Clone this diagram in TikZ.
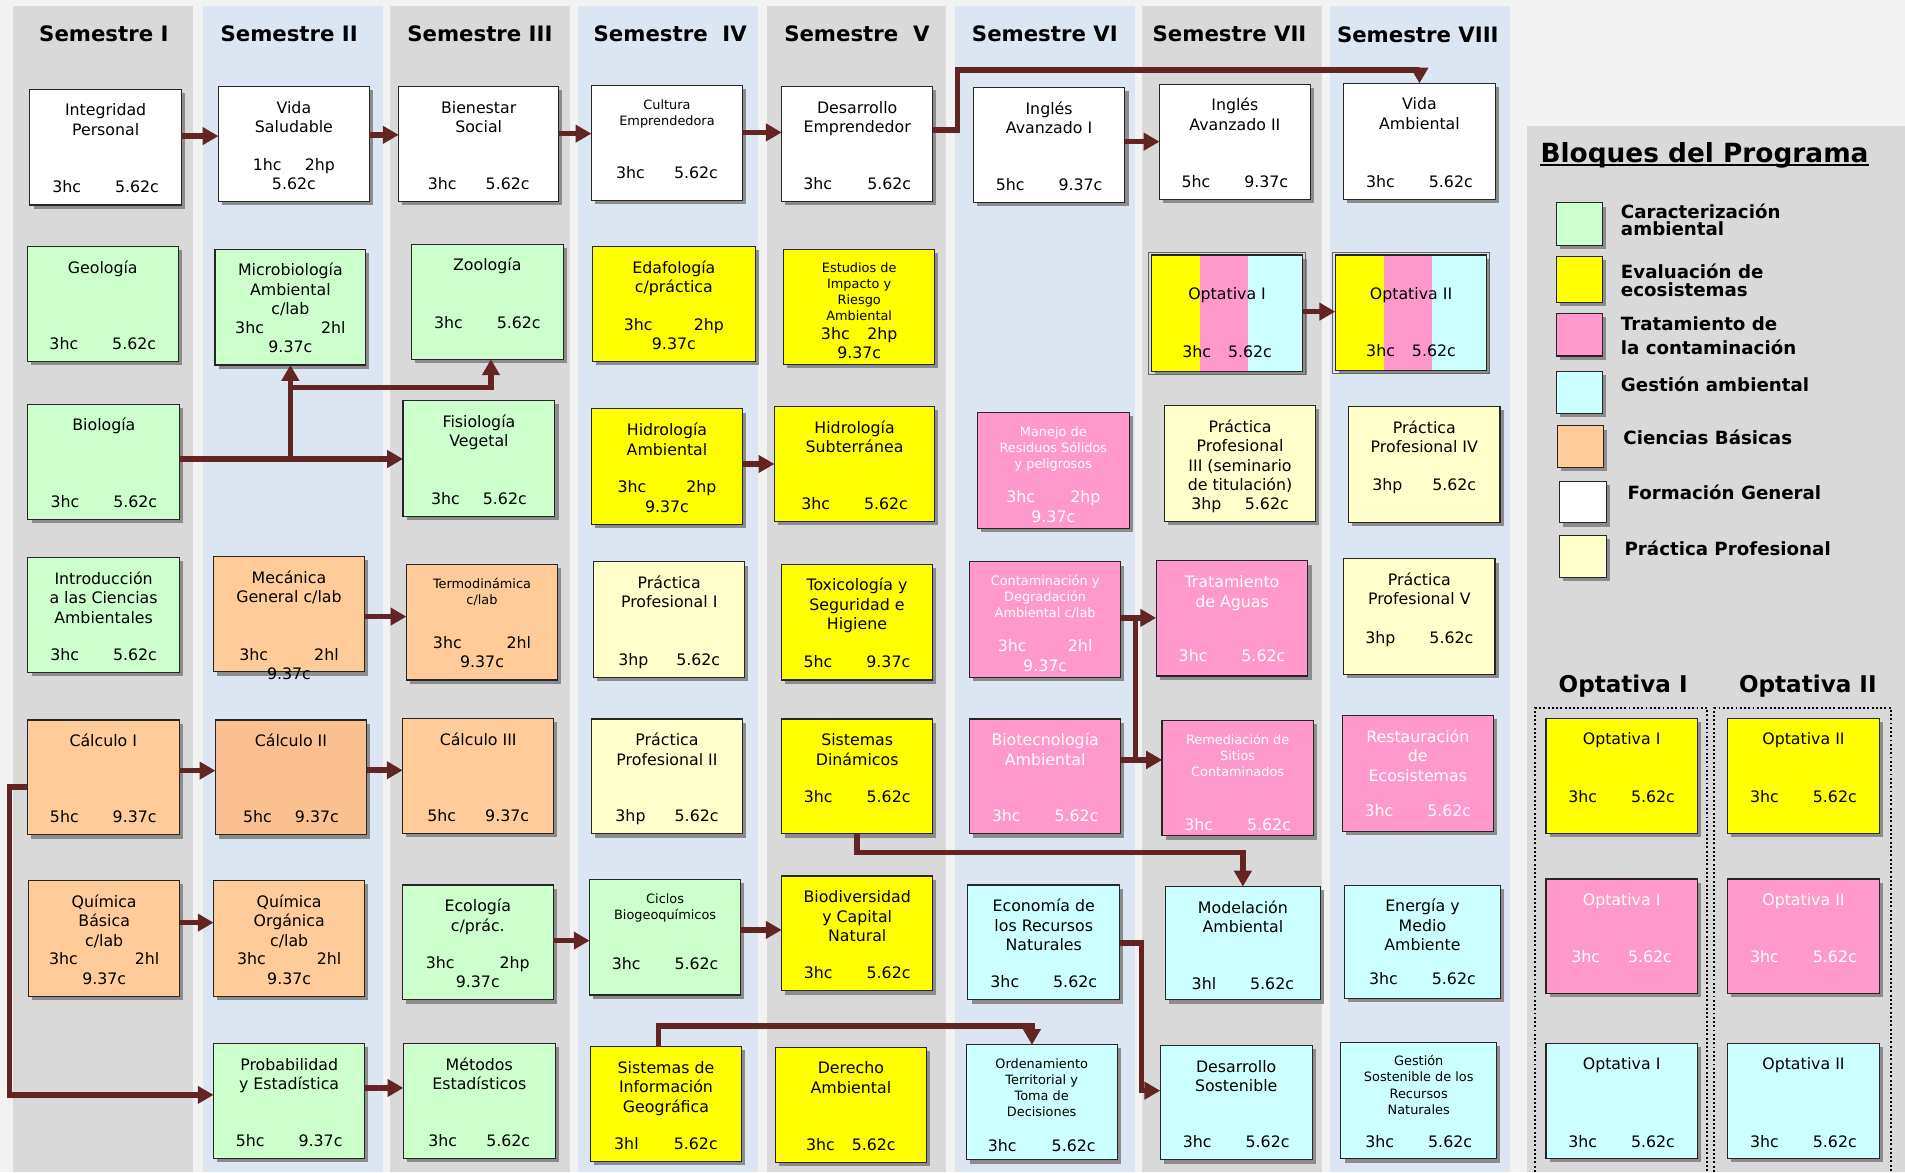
\documentclass[tikz,border=0pt]{standalone}
\usepackage{fontspec}
\setmainfont{DejaVu Sans}
\usetikzlibrary{arrows.meta}
\definecolor{bgc}{HTML}{F2F2F2}
\definecolor{colg}{HTML}{D9D9D9}
\definecolor{colb}{HTML}{DCE6F2}
\definecolor{grn}{HTML}{CCFFCC}
\definecolor{yel}{HTML}{FFFF00}
\definecolor{pnk}{HTML}{FF99CC}
\definecolor{cyn}{HTML}{CCFFFF}
\definecolor{org}{HTML}{FFCC99}
\definecolor{orgb}{HTML}{FAC090}
\definecolor{crm}{HTML}{FFFFCC}
\definecolor{arrc}{HTML}{632523}
\definecolor{shc}{HTML}{8C8C8C}
\newcommand\nmf{\fontsize{13}{16}\selectfont}
\newcommand\smf{\fontsize{10.6}{13.2}\selectfont}
\newcommand\crd[3][28pt]{#2\hspace{#1}#3}
\pgfkeys{/crs/.is family, /crs,
  bg/.store in=\cFill,
  txt/.store in=\cTxt,
  title/.store in=\cTitle,
  cred/.store in=\cCred,
  cdy/.store in=\cDy,
  tdy/.store in=\cTdy,
  pre/.store in=\cPre,
  sm/.code={\def\cTf{\smf}\def\cTdy{-2.38}},
  w/.code={\def\cTxt{white}}}
\tikzset{
  box/.style={draw=black!85, line width=0.9pt, inner sep=0pt, outer sep=0pt},
  ttl/.style={anchor=north, align=center, inner sep=0pt},
  cdn/.style={anchor=south, align=center, inner sep=0pt, font=\nmf},
  arr/.style={draw=arrc, line width=4.6pt, -{Triangle[length=13pt,width=14pt]}},
  sem/.style={font=\fontsize{17.5}{20}\selectfont\bfseries, inner sep=0pt, anchor=base},
  lgd/.style={font=\fontsize{15}{14.5}\selectfont\bfseries, anchor=north west, align=left, inner sep=0pt},
  opth/.style={font=\fontsize{19}{22}\selectfont\bfseries, inner sep=0pt, anchor=base},
  dotframe/.style={line width=1.6pt, dash pattern=on 1.6pt off 1.9pt},
}
\newcommand\course[6]{%
  \def\cFill{white}\def\cTxt{black}\def\cTitle{}\def\cCred{}%
  \def\cDy{0}\def\cTdy{0}\def\cPre{}\def\cTf{\nmf}%
  \pgfkeys{/crs,#6}%
  \fill[shc] ({#2+3},{#3+3}) rectangle ({#4+3},{#5+3});
  \cPre
  \node[box, fill=\cFill, minimum width={#4-#2}, minimum height={#5-#3}] (#1) at ({(#2+#4)/2},{(#3+#5)/2}) {};
  \node[ttl, text=\cTxt, font=\cTf] (#1-t) at ({(#2+#4)/2},{#3+10.74+(\cTdy)}) {\rule{0pt}{11pt}\cTitle};
  \node[cdn, text=\cTxt] (#1-c) at ({(#2+#4)/2},{#5-5.76+(\cDy)}) {\cCred\rule[-4pt]{0pt}{4pt}};
}
\newcommand\swatch[6]{%
  \fill[shc] ({#2+3},{#3+3}) rectangle ({#4+3},{#5+3});
  \node[box, fill=#6, minimum width={#4-#2}, minimum height={#5-#3}] (#1) at ({(#2+#4)/2},{(#3+#5)/2}) {};
}
\begin{document}
\begin{tikzpicture}[x=1pt,y=-1pt]
\useasboundingbox (0,0) rectangle (1568,965);
\fill[bgc] (0,0) rectangle (1568,965);
% columns
\fill[colg] (11,5) rectangle (159,965);
\fill[colb] (167,5) rectangle (315,965);
\fill[colg] (321,5) rectangle (469,965);
\fill[colb] (476,5) rectangle (624,965);
\fill[colg] (631,5) rectangle (779,965);
\fill[colb] (786,5) rectangle (934,965);
\fill[colg] (940,5) rectangle (1088,965);
\fill[colb] (1095,5) rectangle (1243,965);
\fill[colg] (1257,103.7) rectangle (1568,965);
% titles
\node[sem] (s1) at (85.5,33.8) {Semestre I};
\node[sem] (s2) at (238,33.8) {Semestre II};
\node[sem] (s3) at (395,33.8) {Semestre III};
\node[sem] (s4) at (551.7,33.8) {Semestre~~IV};
\node[sem] (s5) at (705.3,33.8) {Semestre~~V};
\node[sem] (s6) at (860,33.8) {Semestre VI};
\node[sem] (s7) at (1012,33.8) {Semestre VII};
\node[sem] (s8) at (1167,35.2) {Semestre VIII};
% column 1
\course{int}{24.6}{73.5}{149.3}{168.7}{title={Integridad\\Personal}, cred={\crd{3hc}{5.62c}}}
\course{geo}{22.4}{203}{146.8}{297.7}{bg=grn, title={Geología}, cred={\crd{3hc}{5.62c}}}
\course{bio}{23}{332.8}{148}{427.4}{bg=grn, title={Biología}, cred={\crd{3hc}{5.62c}}}
\course{intro}{23}{459}{147.5}{553.6}{bg=grn, title={Introducción\\a las Ciencias\\Ambientales}, cred={\crd{3hc}{5.62c}}}
\course{calA}{22.6}{592.6}{147.4}{687.2}{bg=org, title={Cálculo I}, cred={\crd{5hc}{9.37c}}}
\course{qb}{23.5}{725}{148}{820}{bg=org, title={Química\\Básica\\c/lab}, cred={\crd[47pt]{3hc}{2hl}\\9.37c}}
% column 2
\course{vida}{179.8}{71.3}{304}{166}{title={Vida\\Saludable}, cred={\crd[19pt]{1hc}{2hp}\\5.62c}}
\course{micro}{177}{205}{301}{300.4}{bg=grn, title={Microbiología\\Ambiental\\c/lab}, cred={\crd[47pt]{3hc}{2hl}\\9.37c}}
\course{mec}{175.5}{458}{300.2}{553}{bg=org, title={Mecánica\\General c/lab}, cred={\crd[38pt]{3hc}{2hl}\\9.37c}, cdy=16.5}
\course{calB}{177.3}{592.6}{301.7}{687.2}{bg=orgb, title={Cálculo II}, cred={\crd[19pt]{5hc}{9.37c}}}
\course{qo}{175.8}{725}{300.2}{820}{bg=org, title={Química\\Orgánica\\c/lab}, cred={\crd[42pt]{3hc}{2hl}\\9.37c}}
\course{prob}{175.8}{859}{300.2}{953.6}{bg=grn, title={Probabilidad\\y Estadística}, cred={\crd{5hc}{9.37c}}}
% column 3
\course{bien}{328.2}{71.3}{459.8}{166}{title={Bienestar\\Social}, cred={\crd[24pt]{3hc}{5.62c}}}
\course{zoo}{338.6}{201}{463.6}{295.7}{bg=grn, title={Zoología}, cred={\crd{3hc}{5.62c}}, cdy=-15.2}
\course{fis}{331.7}{329.8}{456.7}{425}{bg=grn, title={Fisiología\\Vegetal}, cred={\crd[19pt]{3hc}{5.62c}}}
\course{termo}{334.5}{464.5}{459}{559.7}{bg=org, sm, title={Termodinámica\\c/lab}, cred={\crd[37pt]{3hc}{2hl}\\9.37c}}
\course{calC}{331.4}{591.3}{455.8}{686}{bg=org, title={Cálculo III}, cred={\crd[24pt]{5hc}{9.37c}}}
\course{ecol}{331}{728.4}{455.5}{823}{bg=grn, title={Ecología\\c/prác.}, cred={\crd[37pt]{3hc}{2hp}\\9.37c}}
\course{met}{332}{859}{457}{953.6}{bg=grn, title={Métodos\\Estadísticos}, cred={\crd[24pt]{3hc}{5.62c}}}
% column 4
\course{cult}{486.8}{70.2}{611.2}{164.9}{sm, title={Cultura\\Emprendedora}, cred={\crd[24pt]{3hc}{5.62c}}, cdy=-7.7}
\course{edaf}{487.7}{203}{621.6}{297.7}{bg=yel, title={Edafología\\c/práctica}, cred={\crd[34pt]{3hc}{2hp}\\9.37c}}
\course{hidA}{486.8}{336.6}{611.2}{431.5}{bg=yel, title={Hidrología\\Ambiental}, cred={\crd[33pt]{3hc}{2hp}\\9.37c}}
\course{ppA}{488.7}{462.5}{613}{557.7}{bg=crm, title={Práctica\\Profesional I}, cred={\crd[23pt]{3hp}{5.62c}}}
\course{ppB}{486.8}{591.8}{611.2}{686.4}{bg=crm, title={Práctica\\Profesional II}, cred={\crd[24pt]{3hp}{5.62c}}}
\course{cic}{485.3}{723.7}{609.6}{819}{bg=grn, sm, title={Ciclos\\Biogeoquímicos}, cred={\crd{3hc}{5.62c}}, cdy=-10.8}
\course{sig}{486}{861.4}{610.3}{956.1}{bg=yel, title={Sistemas de\\Información\\Geográfica}, cred={\crd[29pt]{3hl}{5.62c}}}
% column 5
\course{desE}{643.4}{71.1}{767.7}{165.7}{title={Desarrollo\\Emprendedor}, cred={\crd[29pt]{3hc}{5.62c}}}
\course{est}{645}{205}{769.4}{300}{bg=yel, sm, title={Estudios de\\Impacto y\\Riesgo\\Ambiental}, cred={\crd[14.5pt]{3hc}{2hp}\\9.37c}, cdy=5.3}
\course{hidS}{637.4}{334.7}{769.4}{429.4}{bg=yel, title={Hidrología\\Subterránea}, cred={\crd{3hc}{5.62c}}}
\course{tox}{643}{464.5}{767.7}{559.7}{bg=yel, title={Toxicología y\\Seguridad e\\Higiene}, cred={\crd{5hc}{9.37c}}}
\course{sisD}{643.4}{591.8}{767.7}{686.4}{bg=yel, title={Sistemas\\Dinámicos}, cred={\crd{3hc}{5.62c}}, cdy=-15.7}
\course{biod}{643.4}{721}{767.7}{815.6}{bg=yel, title={Biodiversidad\\y Capital\\Natural}, cred={\crd{3hc}{5.62c}}}
\course{der}{638.3}{862}{762.4}{956.7}{bg=yel, title={Derecho\\Ambiental}, cred={\crd[14pt]{3hc}{5.62c}}}
% column 6
\course{ingA}{801.1}{71.9}{925.9}{166.5}{title={Inglés\\Avanzado I}, cred={\crd{5hc}{9.37c}}}
\course{man}{804.3}{339.6}{929.7}{434.8}{bg=pnk, w, sm, title={Manejo de\\Residuos Sólidos\\y peligrosos}, cred={\crd[29pt]{3hc}{2hp}\\9.37c}, cdy=4.9}
\course{cont}{798}{462.5}{922.5}{557.7}{bg=pnk, w, sm, title={Contaminación y\\Degradación\\Ambiental c/lab}, cred={\crd[34pt]{3hc}{2hl}\\9.37c}, cdy=4.8}
\course{biot}{798}{591.8}{922.5}{686.4}{bg=pnk, w, title={Biotecnología\\Ambiental}, cred={\crd{3hc}{5.62c}}}
\course{econ}{796.7}{728.4}{921.5}{823}{bg=cyn, title={Economía de\\los Recursos\\Naturales}, cred={\crd{3hc}{5.62c}}}
\course{ord}{795.2}{860}{919.6}{954.7}{bg=cyn, sm, title={Ordenamiento\\Territorial y\\Toma de\\Decisiones}, cred={\crd[29pt]{3hc}{5.62c}}, cdy=2.8}
% column 7
\course{ingB}{954.4}{69.4}{1078.4}{164}{title={Inglés\\Avanzado II}, cred={\crd{5hc}{9.37c}}}
\course{optA}{947.6}{209.9}{1072.4}{305.9}{bg=none, tdy=15, title={Optativa I}, cred={\crd[14pt]{3hc}{5.62c}}, cdy=-1.4,
  pre={\draw[black!60, line width=0.6pt] (945.6,207.4) rectangle (1074.4,307.9);
       \fill[yel] (947.6,209.9) rectangle (988,305.9);
       \fill[pnk] (988,209.9) rectangle (1027,305.9);
       \fill[cyn] (1027,209.9) rectangle (1072.4,305.9);}}
\course{ppC}{958.3}{334}{1083}{429.4}{bg=crm, title={Práctica\\Profesional\\III (seminario\\de titulación)}, cred={\crd[19.4pt]{3hp}{5.62c}}}
\course{trat}{951.6}{461.7}{1076.5}{556.4}{bg=pnk, w, title={Tratamiento\\de Aguas}, cred={\crd{3hc}{5.62c}}, cdy=-2}
\course{rem}{956.4}{593}{1081}{688}{bg=pnk, w, sm, title={Remediación de\\Sitios\\Contaminados}, cred={\crd{3hc}{5.62c}}, cdy=5.5}
\course{mod}{959}{729.7}{1087}{823}{bg=cyn, title={Modelación\\Ambiental}, cred={\crd{3hl}{5.62c}}, cdy=1.5}
\course{desS}{955}{860.6}{1080}{954.7}{bg=cyn, title={Desarrollo\\Sostenible}, cred={\crd{3hc}{5.62c}}}
% column 8
\course{vam}{1105.7}{68.6}{1231}{164}{title={Vida\\Ambiental}, cred={\crd{3hc}{5.62c}}}
\course{optB}{1099}{209.9}{1223.8}{305}{bg=none, tdy=15, title={Optativa II}, cred={\crd[14pt]{3hc}{5.62c}}, cdy=-1.4,
  pre={\draw[black!60, line width=0.6pt] (1097,207.4) rectangle (1225.8,307);
       \fill[yel] (1099,209.9) rectangle (1139.5,305);
       \fill[pnk] (1139.5,209.9) rectangle (1178.5,305);
       \fill[cyn] (1178.5,209.9) rectangle (1223.8,305);}}
\course{ppD}{1110}{334.5}{1234.6}{430}{bg=crm, title={Práctica\\Profesional IV}, cred={\crd[24.5pt]{3hp}{5.62c}}, cdy=-16}
\course{ppE}{1106}{460}{1230.5}{555}{bg=crm, title={Práctica\\Profesional V}, cred={\crd{3hp}{5.62c}}, cdy=-15}
\course{rest}{1105}{589}{1229}{684.5}{bg=pnk, w, title={Restauración\\de\\Ecosistemas}, cred={\crd{3hc}{5.62c}}, cdy=-2.8}
\course{ener}{1106.6}{728.6}{1235}{821.6}{bg=cyn, title={Energía y\\Medio\\Ambiente}, cred={\crd{3hc}{5.62c}}, cdy=-1.1}
\course{gest}{1103.7}{857.8}{1231.8}{953.9}{bg=cyn, sm, title={Gestión\\Sostenible de los\\Recursos\\Naturales}, cred={\crd{3hc}{5.62c}}, cdy=0.8}
% legend
\node[font=\fontsize{21.7}{24}\selectfont\bfseries, inner sep=0pt, anchor=base] (bt) at (1403,133.9) {Bloques del Programa};
\draw[line width=1.6pt] ([yshift=-2.2pt]bt.base west) -- ([yshift=-2.2pt]bt.base east);
\swatch{k1}{1281}{167}{1319}{202}{grn}
\swatch{k2}{1281}{211}{1319}{249}{yel}
\swatch{k3}{1281}{258}{1319}{293}{pnk}
\swatch{k4}{1281}{306}{1319}{340.5}{cyn}
\swatch{k5}{1282}{350.6}{1320}{385}{org}
\swatch{k6}{1283.6}{396}{1322}{430.4}{white}
\swatch{k7}{1283.6}{441}{1322}{475.4}{crm}
\node[lgd] (l1) at (1334,166.5) {\rule{0pt}{13pt}Caracterización\\ambiental};
\node[lgd] (l2) at (1334,216.1) {\rule{0pt}{13pt}Evaluación de\\ecosistemas};
\node[lgd] (l3) at (1334,258.5) {\rule{0pt}{13pt}Tratamiento de\\[5.5pt]la contaminación};
\node[lgd] (l4) at (1334,308.8) {\rule{0pt}{13pt}Gestión ambiental};
\node[lgd] (l5) at (1336,352.5) {\rule{0pt}{13pt}Ciencias Básicas};
\node[lgd] (l6) at (1339.5,398) {\rule{0pt}{13pt}Formación General};
\node[lgd] (l7) at (1337,443.8) {\rule{0pt}{13pt}Práctica Profesional};
\node[opth] (hA) at (1336,569.9) {Optativa I};
\node[opth] (hB) at (1488,569.9) {Optativa II};
\draw[dotframe] (1263.4,975) -- (1263.4,583) -- (1405.3,583) -- (1405.3,975);
\draw[dotframe] (1411,975) -- (1411,583) -- (1556.8,583) -- (1556.8,975);
\course{oyA}{1272.5}{591.2}{1397}{685.9}{bg=yel, title={Optativa I}, cred={\crd{3hc}{5.62c}}, cdy=-15.2}
\course{opA}{1272.5}{723.5}{1397}{818}{bg=pnk, w, title={Optativa I}, cred={\crd[23pt]{3hc}{5.62c}}, cdy=-15.6}
\course{ocA}{1272.5}{858.7}{1397}{953.4}{bg=cyn, title={Optativa I}, cred={\crd{3hc}{5.62c}}, cdy=0.7}
\course{oyB}{1422}{591.2}{1546.8}{685.9}{bg=yel, title={Optativa II}, cred={\crd{3hc}{5.62c}}, cdy=-15.2}
\course{opB}{1422}{723.5}{1546.8}{818}{bg=pnk, w, title={Optativa II}, cred={\crd{3hc}{5.62c}}, cdy=-15.6}
\course{ocB}{1422}{858.7}{1546.8}{953.4}{bg=cyn, title={Optativa II}, cred={\crd{3hc}{5.62c}}, cdy=0.7}
% connectors
\draw[arr] (int.east |- 0,112) -- (vida.west |- 0,112);
\draw[arr] (vida.east |- 0,111) -- (bien.west |- 0,111);
\draw[arr] (bien.east |- 0,110) -- (cult.west |- 0,110);
\draw[arr] (cult.east |- 0,109) -- (desE.west |- 0,109);
\draw[arr] (desE.east |- 0,107) -- (788,107) -- (788,57.6) -| (vam.north);
\draw[arr] (ingA.east |- 0,116.6) -- (ingB.west |- 0,116.6);
\draw[arr] (optA.east |- 0,256.5) -- (optB.west |- 0,256.5);
\draw[arr] (bio.east |- 0,377.8) -- (fis.west |- 0,377.8);
\draw[arr] (micro.south |- 0,377.8) -- (micro.south);
\draw[arr] (micro.south |- 0,319) -| ([xshift=3pt]zoo.south);
\draw[arr] (hidA.east |- 0,381.9) -- (hidS.west |- 0,381.9);
\draw[arr] (mec.east |- 0,507.5) -- (termo.west |- 0,507.5);
\draw[arr] (calA.east |- 0,634.3) -- (calB.west |- 0,634.3);
\draw[arr] (calB.east |- 0,634) -- (calC.west |- 0,634);
\draw[arr] (calA.west |- 0,648) -- (7.9,648) |- (prob.west |- 0,901.2);
\draw[arr] (qb.east |- 0,759.4) -- (qo.west |- 0,759.4);
\draw[arr] (prob.east |- 0,895.5) -- (met.west |- 0,895.5);
\draw[arr] (ecol.east |- 0,774.2) -- (cic.west |- 0,774.2);
\draw[arr] (cic.east |- 0,765.4) -- (biod.west |- 0,765.4);
\draw[arr] (cont.east |- 0,508.6) -- (trat.west |- 0,508.6);
\draw[arr] (934.7,508.6) |- (rem.west |- 0,625.5);
\draw[arr] (biot.east |- 0,625.5) -- (rem.west |- 0,625.5);
\draw[arr] (sisD.south) -- (sisD.south |- 0,701.7) -| (mod.north);
\draw[arr] (econ.east |- 0,776.4) -- (939.4,776.4) |- (desS.west |- 0,897.7);
\draw[arr] ([xshift=-6pt]sig.north) -- ([xshift=-6pt]sig.north |- 0,844.4) -| ([xshift=-8pt]ord.north);
\end{tikzpicture}
\end{document}
